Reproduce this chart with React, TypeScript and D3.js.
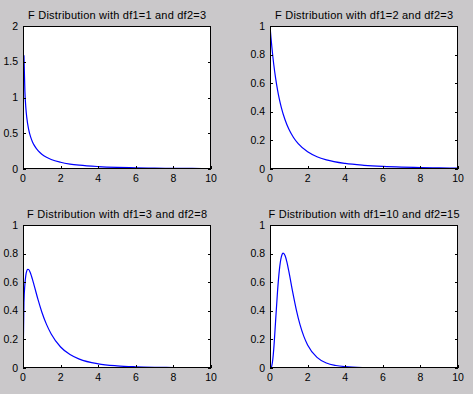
import React from 'react';
import * as d3 from 'd3';

// values
const xs1 = [0.05, 0.1, 0.15, 0.2, 0.3, 0.4, 0.5, 0.6, 0.8, 1, 1.25, 1.5, 2, 2.5, 3, 4, 5, 6, 7, 8, 9, 10];
const ys1 = [1.59, 1.089, 0.861, 0.722, 0.555, 0.452, 0.382, 0.330, 0.256, 0.207, 0.164, 0.133, 0.094, 0.069, 0.053, 0.034, 0.023, 0.017, 0.0125, 0.0097, 0.0077, 0.0062];

const xs2 = [0, 0.05, 0.1, 0.2, 0.3, 0.4, 0.5, 0.6, 0.8, 1, 1.25, 1.5, 2, 2.5, 3, 4, 5, 6, 7, 8, 9, 10];
const ys2 = [1, 0.921, 0.851, 0.731, 0.634, 0.554, 0.487, 0.431, 0.344, 0.279, 0.220, 0.177, 0.120, 0.086, 0.064, 0.039, 0.026, 0.018, 0.013, 0.010, 0.0077, 0.0061];

const xs3 = [0, 0.05, 0.1, 0.15, 0.2, 0.25, 0.3, 0.4, 0.5, 0.6, 0.8, 1, 1.25, 1.5, 2, 2.5, 3, 4, 5, 6, 7, 8, 9, 10];
const ys3 = [0, 0.456, 0.584, 0.648, 0.679, 0.690, 0.689, 0.663, 0.621, 0.574, 0.478, 0.392, 0.305, 0.238, 0.147, 0.094, 0.062, 0.029, 0.015, 0.0085, 0.005, 0.0031, 0.002, 0.0014];

const xs4 = [0, 0.05, 0.1, 0.15, 0.2, 0.3, 0.4, 0.5, 0.6, 0.7, 0.8, 0.9, 1, 1.2, 1.4, 1.6, 1.8, 2, 2.5, 3, 3.5, 4, 5, 6, 8, 10];
const ys4 = [0, 0.0017, 0.018, 0.062, 0.134, 0.333, 0.535, 0.688, 0.775, 0.803, 0.786, 0.740, 0.677, 0.536, 0.407, 0.301, 0.221, 0.161, 0.074, 0.035, 0.0175, 0.0091, 0.0028, 0.001, 0.0002, 0];

const titles = [
  'F Distribution with df1=1 and df2=3',
  'F Distribution with df1=2 and df2=3',
  'F Distribution with df1=3 and df2=8',
  'F Distribution with df1=10 and df2=15',
];
const titleWidths = [178, 178, 180, 191];

const xTicks = [0, 2, 4, 6, 8, 10];
const yTicksA = [0, 0.5, 1, 1.5, 2];
const yTickLabelsA = ['0', '0.5', '1', '1.5', '2'];
const yTicksB = [0, 0.2, 0.4, 0.6, 0.8, 1];
const yTickLabelsB = ['0', '0.2', '0.4', '0.6', '0.8', '1'];

const W = 473;
const H = 394;
const panelW = 188;
const panelH = 143;
const lefts = [23, 270, 23, 270];
const tops = [26, 26, 225, 225];

const font = 'Arial, "Liberation Sans", sans-serif';

function Panel(props: any) {
  const { left, top, xsv, ysv, yMax, yTicks, yLabels, title, titleW, idx } = props;
  const x = d3.scaleLinear().domain([0, 10]).range([0, panelW]);
  const y = d3.scaleLinear().domain([0, yMax]).range([panelH, 0]);
  const pts = xsv.map((v: number, i: number) => [v, ysv[i]]);
  const line = d3.line<number[]>()
    .x(d => x(d[0]))
    .y(d => y(d[1]))
    .curve(d3.curveMonotoneX);
  const tl = 3;
  return (
    <g transform={`translate(${left},${top})`}>
      <defs>
        <clipPath id={`clip${idx}`}>
          <rect x={0} y={0} width={panelW} height={panelH} />
        </clipPath>
      </defs>
      <rect x={0} y={0} width={panelW} height={panelH} fill="#ffffff" />
      <path d={line(pts) || ''} fill="none" stroke="#0000ff" strokeWidth={1.2} clipPath={`url(#clip${idx})`} />
      <rect x={0.5} y={0.5} width={panelW - 1} height={panelH - 1} fill="none" stroke="#000" strokeWidth={1} />
      {yTicks.map((t: number, i: number) => (
        <g key={'y' + i}>
          <line x1={0} x2={tl} y1={Math.round(y(t)) + 0.5} y2={Math.round(y(t)) + 0.5} stroke="#000" />
          <line x1={panelW - tl} x2={panelW} y1={Math.round(y(t)) + 0.5} y2={Math.round(y(t)) + 0.5} stroke="#000" />
          <text x={-5} y={y(t) + 3.5} textAnchor="end" fontSize={10.5} fontFamily={font} fill="#000">{yLabels[i]}</text>
        </g>
      ))}
      {xTicks.map((t, i) => (
        <g key={'x' + i}>
          <line x1={Math.round(x(t)) + 0.5} x2={Math.round(x(t)) + 0.5} y1={panelH} y2={panelH - tl} stroke="#000" />
          <text x={x(t)} y={panelH + 13} textAnchor="middle" fontSize={10.5} fontFamily={font} fill="#000">{t}</text>
        </g>
      ))}
      <text x={panelW / 2} y={-7.5} textAnchor="middle" fontSize={11} fontFamily={font} fill="#000"
        textLength={titleW} lengthAdjust="spacing">{title}</text>
    </g>
  );
}

export default function App() {
  const series = [[xs1, ys1], [xs2, ys2], [xs3, ys3], [xs4, ys4]];
  return (
    <div style={{ position: 'fixed', left: 0, top: 0 }}>
      <svg width={W} height={H} style={{ display: 'block' }}>
        <rect x={0} y={0} width={W} height={H} fill="#cac8ca" />
        {series.map((s, i) => (
          <Panel key={i} idx={i} left={lefts[i]} top={tops[i]} xsv={s[0]} ysv={s[1]}
            yMax={i === 0 ? 2 : 1}
            yTicks={i === 0 ? yTicksA : yTicksB}
            yLabels={i === 0 ? yTickLabelsA : yTickLabelsB}
            title={titles[i]} titleW={titleWidths[i]} />
        ))}
      </svg>
    </div>
  );
}
